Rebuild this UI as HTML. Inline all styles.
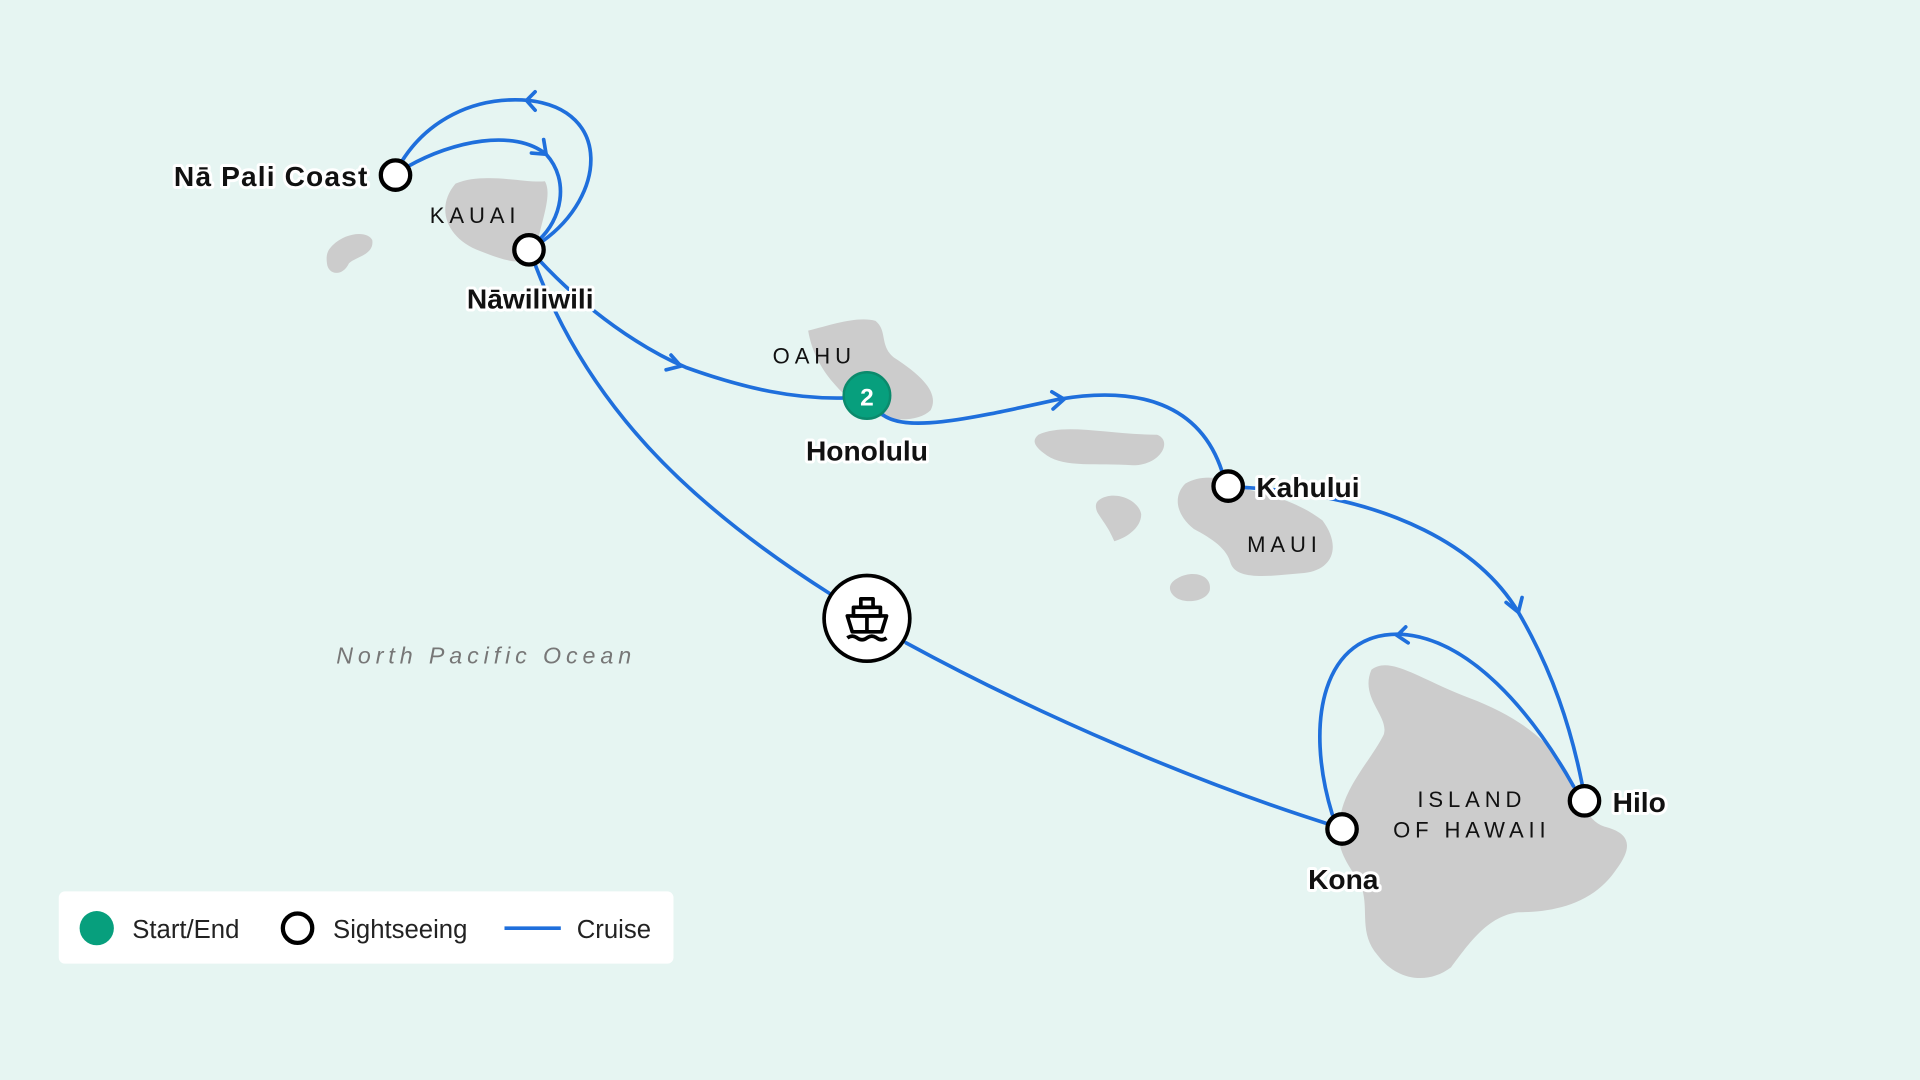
<!DOCTYPE html>
<html><head><meta charset="utf-8"><style>
html,body{margin:0;padding:0;background:#e6f5f2;}
svg{display:block}
.lbl{font-family:"Liberation Sans",sans-serif;font-weight:bold;font-size:23px;fill:#111;paint-order:stroke;stroke:#fff;stroke-width:5px;stroke-linejoin:round}
.isl{font-family:"Liberation Sans",sans-serif;font-size:18px;fill:#111;letter-spacing:4px}
.rt{fill:none;stroke:#1f6fdc;stroke-width:3;stroke-linecap:round}
.nd{fill:#fff;stroke:#000;stroke-width:3.5}
</style></head><body>
<svg width="1920" height="1080" viewBox="0 0 1568 882" xmlns="http://www.w3.org/2000/svg">
<rect width="1568" height="882" fill="#e6f5f2"/>
<g fill="#cccccc">
<path d="M372,150 C395,140 430,150 445,148 C452,160 440,185 438,205 C430,220 410,212 392,205 C365,195 355,170 372,150Z"/>
<path d="M272,200 C282,190 300,188 304,196 C306,208 290,210 285,215 C280,226 268,225 267,215 C266,207 268,204 272,200Z"/>
<path d="M660,270 C680,265 700,258 715,262 C725,270 718,282 730,292 C750,305 768,320 760,335 C750,345 725,345 705,335 C685,320 665,300 660,270Z"/>
<path d="M848,355 C870,345 905,355 945,355 C958,360 948,380 925,380 C895,378 870,382 855,372 C845,365 842,360 848,355Z"/>
<path d="M898,408 C910,400 930,408 932,420 C932,432 918,440 910,442 C905,430 900,425 896,418 C894,413 895,410 898,408Z"/>
<path d="M968,395 C985,385 1005,392 1020,400 C1040,405 1060,410 1080,425 C1095,445 1090,465 1065,468 C1040,470 1010,475 1005,460 C1002,448 990,440 975,432 C960,420 958,405 968,395Z"/>
<path d="M962,472 C975,465 990,470 988,482 C985,492 965,494 958,486 C953,480 956,475 962,472Z"/>
<path d="M1120,547 C1135,535 1160,555 1200,570 C1240,585 1265,605 1280,630 C1290,650 1295,670 1310,675 C1330,680 1335,690 1320,710 C1300,740 1265,745 1240,745 C1215,748 1200,770 1185,790 C1165,805 1140,800 1125,780 C1108,760 1120,740 1110,720 C1100,705 1088,690 1095,665 C1100,640 1120,620 1130,600 C1135,585 1110,570 1120,547Z"/>
</g>
<!-- routes -->
<path class="rt" d="M443,197 C495,160 500,90 432,82 C385,78 348,100 328,132"/>
<path class="rt" d="M333,136 C370,115 420,105 446,126 C466,148 458,180 440,196"/>
<path class="rt" d="M440,212 C480,255 525,285 560,300 C610,318 650,326 690,325"/>
<path class="rt" d="M720,338 C740,355 800,340 865,326 C930,315 980,330 998,385"/>
<path class="rt" d="M1015,398 C1140,405 1210,450 1240,500 C1268,548 1283,595 1292,640"/>
<path class="rt" d="M1285,642 C1250,580 1200,522 1145,518 C1080,515 1065,590 1088,665"/>
<path class="rt" d="M437,216 C480,330 560,410 678,485"/>
<path class="rt" d="M740,525 C850,585 980,640 1085,673"/>
<g class="rt">
<polyline points="437,75 430,82 437,90"/>
<polyline points="434,125 446,126 444,114"/>
<polyline points="544,302 556,299 548,290"/>
<polyline points="859,320 869,326 860,334"/>
<polyline points="1230,492 1240,500 1243,488"/>
<polyline points="1148,512 1141,519 1150,525"/>
</g>
<!-- nodes -->
<circle class="nd" cx="323" cy="143" r="12"/>
<circle class="nd" cx="432" cy="204" r="12"/>
<circle class="nd" cx="1003" cy="397" r="12"/>
<circle class="nd" cx="1096" cy="677" r="12"/>
<circle class="nd" cx="1294" cy="654" r="12"/>
<circle cx="708" cy="323" r="19" fill="#079f7d" stroke="#0b8a6c" stroke-width="2"/>
<text x="708" y="331" text-anchor="middle" font-family="Liberation Sans,sans-serif" font-weight="bold" font-size="20" fill="#fff">2</text>
<circle cx="708" cy="505" r="35" fill="#fff" stroke="#000" stroke-width="3"/>
<g fill="none" stroke="#000" stroke-width="3" stroke-linejoin="round">
<rect x="703" y="489" width="10" height="7"/>
<rect x="697" y="496" width="22" height="7"/>
<path d="M692,503 H724 L720,516 H696Z"/>
<path d="M708,503 V515"/>
<path d="M692,521 q4,-3 8,0 q4,3 8,0 q4,-3 8,0 q4,3 8,0"/>
</g>
<!-- labels -->
<text class="lbl" x="300" y="152" text-anchor="end" textLength="158">Nā Pali Coast</text>
<text class="lbl" x="433" y="252" text-anchor="middle">Nāwiliwili</text>
<text class="lbl" x="708" y="376" text-anchor="middle">Honolulu</text>
<text class="lbl" x="1026" y="406">Kahului</text>
<text class="lbl" x="1097" y="726" text-anchor="middle">Kona</text>
<text class="lbl" x="1317" y="663">Hilo</text>
<text class="isl" x="388" y="182" text-anchor="middle">KAUAI</text>
<text class="isl" x="665" y="297" text-anchor="middle">OAHU</text>
<text class="isl" x="1049" y="451" text-anchor="middle">MAUI</text>
<text class="isl" x="1202" y="659" text-anchor="middle">ISLAND</text>
<text class="isl" x="1202" y="684" text-anchor="middle">OF HAWAII</text>
<text x="397" y="542" text-anchor="middle" font-family="Liberation Sans,sans-serif" font-style="italic" font-size="19" letter-spacing="4" fill="#777">North Pacific Ocean</text>
<!-- legend -->
<rect x="48" y="728" width="502" height="59" rx="5" fill="#fff"/>
<circle cx="79" cy="758" r="14" fill="#079f7d"/>
<text x="108" y="766" font-family="Liberation Sans,sans-serif" font-size="21" fill="#222">Start/End</text>
<circle cx="243" cy="758" r="12" fill="#fff" stroke="#000" stroke-width="3.5"/>
<text x="272" y="766" font-family="Liberation Sans,sans-serif" font-size="21" fill="#222">Sightseeing</text>
<line x1="412" y1="758" x2="458" y2="758" stroke="#1f6fdc" stroke-width="3"/>
<text x="471" y="766" font-family="Liberation Sans,sans-serif" font-size="21" fill="#222">Cruise</text>
</svg>
</body></html>
